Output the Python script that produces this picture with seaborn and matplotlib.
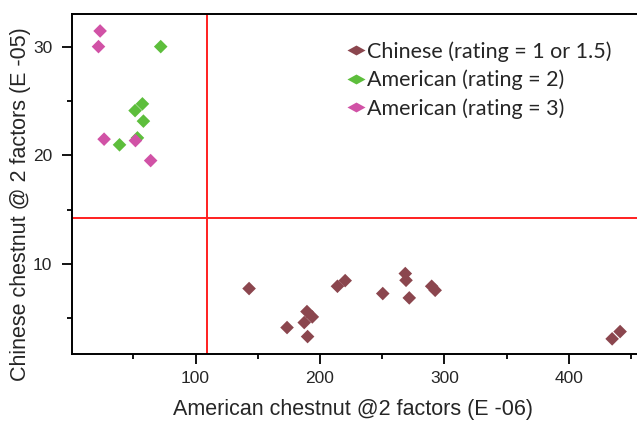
import matplotlib
matplotlib.use("Agg")
import matplotlib.pyplot as plt
from matplotlib.ticker import MultipleLocator
from matplotlib.lines import Line2D
import seaborn as sns
import pandas as pd

# Chinese chestnut trees (rating = 1 or 1.5)
chinese_x = [143.0, 173.5, 187.3, 190.0, 189.5, 193.8, 214.0, 220.2,
             250.4, 268.5, 269.1, 271.7, 289.7, 292.5, 434.7, 441.1]
chinese_y = [7.73, 4.14, 4.60, 3.31, 5.61, 5.12, 7.94, 8.46,
             7.27, 9.11, 8.49, 6.87, 7.94, 7.57, 3.10, 3.77]

# American chestnut trees (rating = 2)
american2_x = [72.0, 57.3, 51.4, 58.1, 38.9, 53.3]
american2_y = [30.0, 24.73, 24.11, 23.14, 20.96, 21.6]

# American chestnut trees (rating = 3)
american3_x = [23.3, 22.0, 26.5, 51.7, 63.9]
american3_y = [31.44, 30.0, 21.48, 21.35, 19.51]

groups = ["Chinese (rating = 1 or 1.5)", "American (rating = 2)", "American (rating = 3)"]
colors = ["#8B464E", "#5DBE3C", "#D152A6"]

# Threshold lines separating the groups
x_cut = 109
y_cut = 14.26

df = pd.DataFrame({
    "x": chinese_x + american2_x + american3_x,
    "y": chinese_y + american2_y + american3_y,
    "group": [groups[0]] * len(chinese_x) + [groups[1]] * len(american2_x)
             + [groups[2]] * len(american3_x),
})

sns.set_style("white")
plt.rcParams["font.family"] = ["Liberation Sans", "DejaVu Sans"]

fig = plt.figure(figsize=(6.37, 4.21), dpi=100)
ax = fig.add_axes([0.1126, 0.159, 0.89, 0.8077])

sns.scatterplot(data=df, x="x", y="y", hue="group", hue_order=groups,
                palette=colors, marker="D", s=48, linewidth=0, ax=ax,
                legend=False, zorder=3)

ax.axvline(x_cut, color="#FF1F1F", lw=1.4, zorder=2)
ax.axhline(y_cut, color="#FF1F1F", lw=1.4, zorder=2)

ax.set_xlim(0.5, 456)
ax.set_ylim(1.7, 33.0)

ax.xaxis.set_minor_locator(MultipleLocator(50))
ax.yaxis.set_minor_locator(MultipleLocator(5))
ax.set_xticks([100, 200, 300, 400])
ax.set_yticks([10, 20, 30])

ax.tick_params(axis="both", which="major", direction="out", length=7,
               width=1.3, color="black", labelsize=12.5,
               bottom=True, left=True)
ax.tick_params(axis="x", which="major", pad=5)
ax.tick_params(axis="y", which="major", pad=7)
ax.tick_params(axis="both", which="minor", direction="out", length=3.6,
               width=1.3, color="black", bottom=True, left=True)

for side in ["left", "bottom", "top", "right"]:
    ax.spines[side].set_color("black")
    ax.spines[side].set_linewidth(1.4)

ax.set_xlabel("American chestnut @2 factors (E -06)", fontsize=15.5)
ax.set_ylabel("Chinese chestnut @ 2 factors (E -05)", fontsize=15.5)
ax.xaxis.set_label_coords(0.4955, -0.133)
ax.yaxis.set_label_coords(-0.072, 0.44)

# Legend keys drawn as flattened diamonds
flat_diamond = [(-1, 0), (0, 0.55), (1, 0), (0, -0.55), (-1, 0)]
handles = [Line2D([], [], linestyle="none", marker=flat_diamond, markersize=13,
                  markerfacecolor=c, markeredgewidth=0) for c in colors]
leg = ax.legend(handles, groups, loc="upper left", bbox_to_anchor=(0.486, 0.920),
                frameon=False, handlelength=0.8, handletextpad=0.11,
                labelspacing=0.37, borderpad=0, borderaxespad=0,
                prop={"family": ["Lato", "DejaVu Sans"], "size": 15.5})

fig.savefig("out.png", dpi=100, facecolor="white")
